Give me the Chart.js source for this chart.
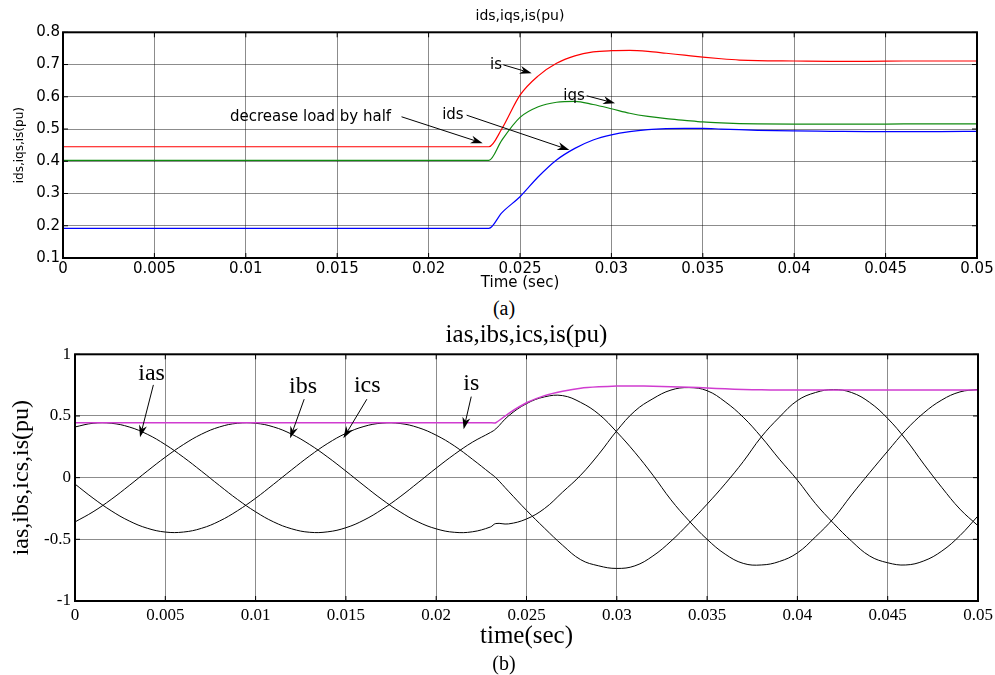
<!DOCTYPE html>
<html>
<head>
<meta charset="utf-8">
<title>ids,iqs,is(pu) / ias,ibs,ics,is(pu)</title>
<script src="https://cdn.jsdelivr.net/npm/chart.js@4.4.1/dist/chart.umd.min.js"></script>
<style>
  body { margin: 0; background: #fff; }
  #page { position: relative; width: 995px; height: 675px; }
  .box { position: absolute; left: 0; width: 995px; }
  .cap { position: absolute; width: 60px; text-align: center; font-family: "Liberation Serif", "Times New Roman", serif; font-size: 20px; line-height: 20px; color: #000; }
</style>
</head>
<body>
<div id="page">
  <div class="box" style="top:0;height:295px"><canvas id="chartA" width="995" height="295"></canvas></div>
  <div class="cap" style="left:474px;top:298px">(a)</div>
  <div class="box" style="top:312px;height:343px"><canvas id="chartB" width="995" height="343"></canvas></div>
  <div class="cap" style="left:474px;top:653px">(b)</div>
</div>
<script>
// shared time axis ticks
const xTicks = [0, 0.005, 0.01, 0.015, 0.02, 0.025, 0.03, 0.035, 0.04, 0.045, 0.05];
const xTickLabels = ['0', '0.005', '0.01', '0.015', '0.02', '0.025', '0.03', '0.035', '0.04', '0.045', '0.05'];

// (a) d-q currents, load cut by half at t ~ 0.0233 s
const dqTime = [0, 0.005, 0.01, 0.015, 0.02, 0.0233, 0.024, 0.025, 0.026, 0.027, 0.028, 0.029, 0.030, 0.031,
  0.032, 0.033, 0.034, 0.035, 0.036, 0.037, 0.038, 0.040, 0.042, 0.044, 0.046, 0.048, 0.050];
const isDq = [0.445, 0.445, 0.445, 0.445, 0.445, 0.445, 0.50, 0.605, 0.665, 0.704, 0.727, 0.739, 0.743, 0.744,
  0.741, 0.735, 0.729, 0.723, 0.718, 0.714, 0.712, 0.711, 0.710, 0.710, 0.711, 0.711, 0.711];
const iqsDq = [0.403, 0.403, 0.403, 0.403, 0.403, 0.403, 0.465, 0.536, 0.569, 0.583, 0.586, 0.576, 0.563, 0.549,
  0.539, 0.532, 0.527, 0.522, 0.519, 0.517, 0.516, 0.515, 0.515, 0.515, 0.516, 0.516, 0.516];
const idsDq = [0.192, 0.192, 0.192, 0.192, 0.192, 0.192, 0.240, 0.290, 0.352, 0.404, 0.440, 0.466, 0.482, 0.492,
  0.498, 0.501, 0.502, 0.502, 0.500, 0.498, 0.496, 0.494, 0.493, 0.492, 0.492, 0.492, 0.493];
const dqYTicks = [0.1, 0.2, 0.3, 0.4, 0.5, 0.6, 0.7, 0.8];
const dqYLabels = ['0.1', '0.2', '0.3', '0.4', '0.5', '0.6', '0.7', '0.8'];

// (b) phase currents and current magnitude
const abcTime = [0, 0.001, 0.002, 0.003, 0.004, 0.005, 0.006, 0.007, 0.008, 0.009, 0.010, 0.011, 0.012,
  0.013, 0.014, 0.015, 0.016, 0.017, 0.018, 0.019, 0.020, 0.021, 0.022, 0.023, 0.0233, 0.024, 0.025,
  0.026, 0.027, 0.028, 0.029, 0.030, 0.031, 0.032, 0.033, 0.034, 0.035, 0.036, 0.037, 0.038, 0.039,
  0.040, 0.041, 0.042, 0.043, 0.044, 0.045, 0.046, 0.047, 0.048, 0.049, 0.050];
const iasVals = [0.411, 0.441, 0.441, 0.411, 0.352, 0.268, 0.166, 0.053, -0.064, -0.177, -0.277, -0.359, -0.415,
  -0.443, -0.439, -0.406, -0.344, -0.258, -0.155, -0.040, 0.077, 0.188, 0.287, 0.366, 0.395, 0.50, 0.60,
  0.655, 0.665, 0.61, 0.515, 0.37, 0.205, 0.02, -0.18, -0.35, -0.50, -0.62, -0.695, -0.708, -0.68,
  -0.61, -0.48, -0.33, -0.14, 0.04, 0.215, 0.385, 0.525, 0.63, 0.695, 0.715];
const ibsVals = [-0.359, -0.277, -0.177, -0.064, 0.053, 0.166, 0.268, 0.352, 0.411, 0.441, 0.441, 0.411, 0.352,
  0.268, 0.166, 0.053, -0.064, -0.177, -0.277, -0.359, -0.415, -0.443, -0.439, -0.40, -0.372, -0.375, -0.335,
  -0.25, -0.117, 0.02, 0.19, 0.38, 0.54, 0.64, 0.71, 0.73, 0.705, 0.615, 0.49, 0.33, 0.15,
  -0.02, -0.21, -0.37, -0.515, -0.635, -0.69, -0.708, -0.675, -0.595, -0.47, -0.31];
const icsVals = [-0.052, -0.166, -0.268, -0.351, -0.410, -0.441, -0.441, -0.411, -0.352, -0.268, -0.167, -0.053, 0.064,
  0.177, 0.278, 0.359, 0.415, 0.442, 0.439, 0.406, 0.344, 0.258, 0.15, 0.035, 0.0, -0.11, -0.265,
  -0.41, -0.548, -0.665, -0.715, -0.736, -0.715, -0.635, -0.515, -0.37, -0.215, -0.05, 0.13, 0.33, 0.49,
  0.625, 0.69, 0.714, 0.69, 0.61, 0.48, 0.31, 0.11, -0.08, -0.255, -0.39];
const isMag = [0.445, 0.445, 0.445, 0.445, 0.445, 0.445, 0.445, 0.445, 0.445, 0.445, 0.445, 0.445, 0.445,
  0.445, 0.445, 0.445, 0.445, 0.445, 0.445, 0.445, 0.445, 0.445, 0.445, 0.445, 0.445, 0.52, 0.607,
  0.665, 0.70, 0.725, 0.736, 0.742, 0.743, 0.741, 0.737, 0.733, 0.727, 0.72, 0.715, 0.712, 0.711,
  0.711, 0.711, 0.711, 0.711, 0.711, 0.711, 0.711, 0.711, 0.711, 0.711, 0.711];
const abcYTicks = [-1, -0.5, 0, 0.5, 1];
const abcYLabels = ['-1', '-0.5', '0', '0.5', '1'];

// labels with arrows, in data units
const dqNotes = [
  { text: 'decrease load by half', at: [0.01354, 0.536], from: [0.01852, 0.538], to: [0.02296, 0.456] },
  { text: 'ids', at: [0.02133, 0.543], from: [0.02208, 0.543], to: [0.0277, 0.435] },
  { text: 'is', at: [0.02369, 0.699], from: [0.02409, 0.699], to: [0.02564, 0.673] },
  { text: 'iqs', at: [0.02796, 0.601], from: [0.02865, 0.603], to: [0.0302, 0.580] }
];
const abcNotes = [
  { text: 'ias', at: [0.00424, 0.845], from: [0.00434, 0.752], to: [0.0036, 0.328] },
  { text: 'ibs', at: [0.01263, 0.739], from: [0.01269, 0.636], to: [0.01191, 0.319] },
  { text: 'ics', at: [0.01618, 0.743], from: [0.01616, 0.636], to: [0.01486, 0.319] },
  { text: 'is', at: [0.02194, 0.76], from: [0.02194, 0.657], to: [0.02152, 0.392] }
];

function pts(xs, ys) {
  return xs.map(function(x, i) { return { x: x, y: ys[i] }; });
}

function arrow(ctx, x1, y1, x2, y2) {
  const a = Math.atan2(y2 - y1, x2 - x1);
  const len = 12, half = 4;
  ctx.beginPath();
  ctx.moveTo(x1, y1);
  ctx.lineTo(x2 - Math.cos(a) * len * 0.7, y2 - Math.sin(a) * len * 0.7);
  ctx.stroke();
  ctx.beginPath();
  ctx.moveTo(x2, y2);
  ctx.lineTo(x2 - Math.cos(a) * len - Math.sin(a) * half, y2 - Math.sin(a) * len + Math.cos(a) * half);
  ctx.lineTo(x2 - Math.cos(a) * len * 0.7, y2 - Math.sin(a) * len * 0.7);
  ctx.lineTo(x2 - Math.cos(a) * len + Math.sin(a) * half, y2 - Math.sin(a) * len - Math.cos(a) * half);
  ctx.closePath();
  ctx.fill();
}

// box round the plot area with matlab style inner ticks
const frame = {
  id: 'frame',
  afterDatasetsDraw(chart) {
    const ctx = chart.ctx, a = chart.chartArea, x = chart.scales.x, y = chart.scales.y;
    ctx.save();
    ctx.strokeStyle = '#000';
    ctx.lineWidth = 1;
    ctx.beginPath();
    x.ticks.forEach(function(t) {
      const px = x.getPixelForValue(t.value);
      ctx.moveTo(px, a.top); ctx.lineTo(px, a.top + 5);
      ctx.moveTo(px, a.bottom); ctx.lineTo(px, a.bottom - 5);
    });
    y.ticks.forEach(function(t) {
      const py = y.getPixelForValue(t.value);
      ctx.moveTo(a.left, py); ctx.lineTo(a.left + 5, py);
      ctx.moveTo(a.right, py); ctx.lineTo(a.right - 5, py);
    });
    ctx.stroke();
    ctx.lineWidth = 2;
    ctx.strokeRect(a.left, a.top, a.right - a.left, a.bottom - a.top);
    ctx.restore();
  }
};

function notesPlugin(notes, font) {
  return {
    id: 'notes',
    afterDatasetsDraw(chart) {
      const ctx = chart.ctx, x = chart.scales.x, y = chart.scales.y;
      ctx.save();
      ctx.fillStyle = '#000';
      ctx.strokeStyle = '#000';
      ctx.lineWidth = 1;
      ctx.font = font;
      ctx.textAlign = 'center';
      ctx.textBaseline = 'middle';
      notes.forEach(function(n) {
        ctx.fillText(n.text, x.getPixelForValue(n.at[0]), y.getPixelForValue(n.at[1]));
        arrow(ctx, x.getPixelForValue(n.from[0]), y.getPixelForValue(n.from[1]),
          x.getPixelForValue(n.to[0]), y.getPixelForValue(n.to[1]));
      });
      ctx.restore();
    }
  };
}

function setTicks(values) {
  return function(scale) {
    scale.ticks = values.map(function(v) { return { value: v }; });
  };
}

function fixX(h) {
  return function(scale) {
    scale.height = h;
    scale.paddingLeft = 0;
    scale.paddingRight = 0;
  };
}

function fixY(w) {
  return function(scale) {
    scale.width = w;
    scale.paddingTop = 0;
    scale.paddingBottom = 0;
  };
}

const sans = 'DejaVu Sans';
const serif = 'Liberation Serif';

new Chart(document.getElementById('chartA'), {
  type: 'line',
  data: {
    datasets: [
      { label: 'is', data: pts(dqTime, isDq), borderColor: '#ff0000' },
      { label: 'iqs', data: pts(dqTime, iqsDq), borderColor: '#108a10' },
      { label: 'ids', data: pts(dqTime, idsDq), borderColor: '#0000ff' }
    ]
  },
  options: {
    responsive: false,
    animation: false,
    devicePixelRatio: 1,
    layout: { padding: { left: 0, right: 18, top: 0, bottom: 0 } },
    elements: { point: { radius: 0 }, line: { borderWidth: 1.2, cubicInterpolationMode: 'monotone' } },
    plugins: {
      legend: { display: false },
      tooltip: { enabled: false },
      title: {
        display: true, text: 'ids,iqs,is(pu)', fullSize: false, color: '#000',
        font: { family: sans, size: 14, weight: 'normal' },
        padding: { top: 7.6, bottom: 7.9 }
      }
    },
    scales: {
      x: {
        type: 'linear', min: 0, max: 0.05,
        afterBuildTicks: setTicks(xTicks),
        afterFit: fixX(37),
        border: { display: false },
        grid: { color: 'rgba(0,0,0,0.45)', drawTicks: false },
        ticks: {
          color: '#000', padding: 2, maxRotation: 0, autoSkip: false,
          font: { family: sans, size: 15 },
          callback: function(v, i) { return xTickLabels[i]; }
        },
        title: {
          display: true, text: 'Time (sec)', color: '#000',
          font: { family: sans, size: 15 }, padding: { top: 0, bottom: 2.5 }
        }
      },
      y: {
        min: 0.1, max: 0.8,
        afterBuildTicks: setTicks(dqYTicks),
        afterFit: fixY(63),
        border: { display: false },
        grid: { color: 'rgba(0,0,0,0.45)', drawTicks: false },
        ticks: {
          color: '#000', padding: 3, autoSkip: false,
          font: { family: sans, size: 15 },
          callback: function(v, i) { return dqYLabels[i]; }
        },
        title: {
          display: true, text: 'ids,iqs,is(pu)', color: '#000',
          font: { family: sans, size: 12 }, padding: { top: 12.8, bottom: 0 }
        }
      }
    }
  },
  plugins: [frame, notesPlugin(dqNotes, '15px "DejaVu Sans"')]
});

new Chart(document.getElementById('chartB'), {
  type: 'line',
  data: {
    datasets: [
      { label: 'is', data: pts(abcTime, isMag), borderColor: '#d03cd0', borderWidth: 1.5, tension: 0.15 },
      { label: 'ias', data: pts(abcTime, iasVals), borderColor: '#000' },
      { label: 'ibs', data: pts(abcTime, ibsVals), borderColor: '#000' },
      { label: 'ics', data: pts(abcTime, icsVals), borderColor: '#000' }
    ]
  },
  options: {
    responsive: false,
    animation: false,
    devicePixelRatio: 1,
    layout: { padding: { left: 0, right: 17, top: 0, bottom: 0 } },
    elements: { point: { radius: 0 }, line: { borderWidth: 1, tension: 0.4 } },
    plugins: {
      legend: { display: false },
      tooltip: { enabled: false },
      title: {
        display: true, text: 'ias,ibs,ics,is(pu)', fullSize: false, color: '#000',
        font: { family: serif, size: 25, weight: 'normal' },
        padding: { top: 8, bottom: 4.3 }
      }
    },
    scales: {
      x: {
        type: 'linear', min: 0, max: 0.05,
        afterBuildTicks: setTicks(xTicks),
        afterFit: fixX(54),
        border: { display: false },
        grid: { color: 'rgba(0,0,0,0.45)', drawTicks: false },
        ticks: {
          color: '#000', padding: 4, maxRotation: 0, autoSkip: false,
          font: { family: serif, size: 17 },
          callback: function(v, i) { return xTickLabels[i]; }
        },
        title: {
          display: true, text: 'time(sec)', color: '#000',
          font: { family: serif, size: 25 }, padding: { top: 0, bottom: 4 }
        }
      },
      y: {
        min: -1, max: 1,
        afterBuildTicks: setTicks(abcYTicks),
        afterFit: fixY(75),
        border: { display: false },
        grid: { color: 'rgba(0,0,0,0.45)', drawTicks: false },
        ticks: {
          color: '#000', padding: 4, autoSkip: false,
          font: { family: serif, size: 17 },
          callback: function(v, i) { return abcYLabels[i]; }
        },
        title: {
          display: true, text: 'ias,ibs,ics,is(pu)', color: '#000',
          font: { family: serif, size: 24 }, padding: { top: 7.6, bottom: 0 }
        }
      }
    }
  },
  plugins: [frame, notesPlugin(abcNotes, '24px "Liberation Serif"')]
});
</script>
</body>
</html>
